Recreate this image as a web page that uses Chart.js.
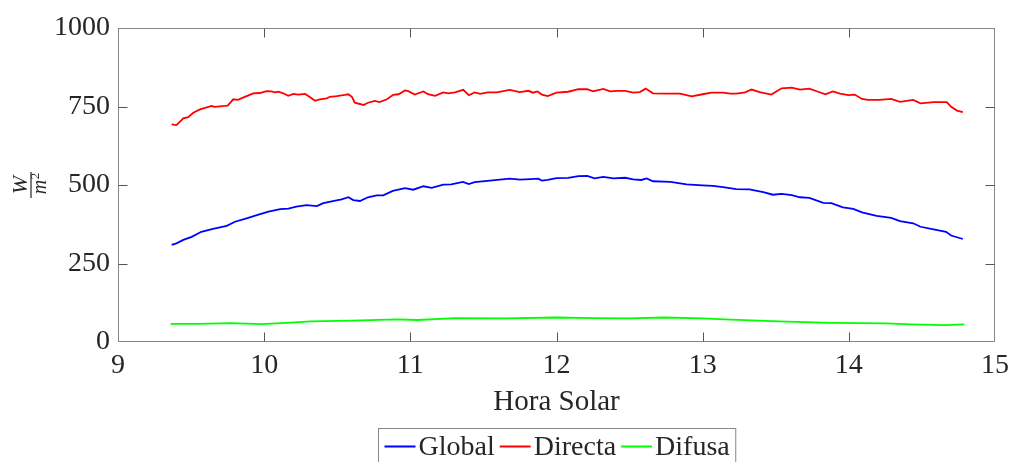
<!DOCTYPE html>
<html>
<head>
<meta charset="utf-8">
<script src="https://cdn.jsdelivr.net/npm/chart.js@4.4.1/dist/chart.umd.min.js"></script>
<style>
  html, body { margin: 0; padding: 0; background: #fff; }
  #wrap { width: 1010px; height: 462px; }
</style>
</head>
<body>
<div id="wrap"><canvas id="radiacion"></canvas></div>
<script>
// Irradiancia medida (W/m2) frente a la hora solar
const horaGlobal = [9.367, 9.40, 9.447, 9.504, 9.57, 9.65, 9.744, 9.80, 9.88, 9.95, 10.03, 10.11, 10.165, 10.22, 10.29, 10.36, 10.405, 10.47, 10.53, 10.576, 10.61, 10.655, 10.71, 10.77, 10.815, 10.88, 10.963, 11.02, 11.09, 11.146, 11.225, 11.28, 11.36, 11.40, 11.44, 11.545, 11.68, 11.75, 11.82, 11.875, 11.90, 11.94, 12.0, 12.08, 12.15, 12.21, 12.26, 12.32, 12.39, 12.47, 12.525, 12.58, 12.617, 12.66, 12.78, 12.89, 13.0, 13.07, 13.14, 13.23, 13.32, 13.415, 13.48, 13.54, 13.61, 13.665, 13.73, 13.825, 13.88, 13.96, 14.03, 14.09, 14.19, 14.29, 14.35, 14.44, 14.49, 14.58, 14.665, 14.70, 14.78];
const global = [309, 314, 325, 335, 351, 360, 370, 383, 394, 404, 415, 423, 425, 431, 436, 433, 442, 449, 454, 461, 452, 449, 461, 467, 467, 481, 490, 485, 496, 491, 501, 502, 510, 503, 509, 514, 520, 517, 519, 520, 514, 516, 522, 523, 528, 529, 521, 526, 521, 523, 518, 516, 521, 512, 510, 502, 499, 497, 493, 487, 486, 477, 469, 472, 468, 461, 459, 443, 442, 429, 424, 413, 402, 395, 385, 378, 367, 359, 351, 339, 328];

const horaDirecta = [9.367, 9.40, 9.447, 9.48, 9.515, 9.561, 9.641, 9.66, 9.732, 9.75, 9.789, 9.82, 9.88, 9.926, 9.97, 10.017, 10.05, 10.074, 10.097, 10.13, 10.165, 10.2, 10.233, 10.28, 10.31, 10.348, 10.38, 10.428, 10.45, 10.496, 10.553, 10.576, 10.6, 10.62, 10.68, 10.71, 10.758, 10.79, 10.84, 10.883, 10.92, 10.963, 10.986, 11.03, 11.09, 11.12, 11.17, 11.225, 11.26, 11.305, 11.362, 11.40, 11.44, 11.477, 11.53, 11.59, 11.68, 11.75, 11.807, 11.84, 11.87, 11.90, 11.94, 12.0, 12.08, 12.15, 12.21, 12.25, 12.32, 12.366, 12.41, 12.47, 12.525, 12.57, 12.61, 12.66, 12.75, 12.845, 12.925, 13.0, 13.06, 13.14, 13.19, 13.23, 13.29, 13.335, 13.39, 13.47, 13.54, 13.61, 13.665, 13.73, 13.79, 13.84, 13.89, 13.94, 13.996, 14.04, 14.09, 14.13, 14.21, 14.29, 14.35, 14.44, 14.49, 14.58, 14.67, 14.70, 14.74, 14.78];
const directa = [693, 691, 712, 716, 730, 741, 752, 749, 752, 753, 773, 771, 783, 792, 793, 799, 798, 795, 797, 792, 784, 790, 788, 790, 781, 768, 773, 776, 781, 783, 787, 789, 781, 762, 755, 762, 768, 764, 773, 787, 789, 801, 799, 788, 798, 789, 784, 795, 792, 795, 803, 786, 795, 790, 795, 795, 803, 796, 800, 794, 798, 788, 783, 794, 797, 805, 805, 798, 806, 798, 800, 800, 794, 796, 807, 792, 791, 791, 782, 789, 794, 794, 791, 791, 795, 804, 796, 788, 808, 810, 804, 807, 797, 789, 798, 791, 786, 788, 774, 771, 771, 774, 765, 771, 760, 764, 764, 749, 737, 732];

const horaDifusa = [9.36, 9.55, 9.77, 9.985, 10.15, 10.32, 10.6, 10.905, 11.05, 11.31, 11.65, 12.0, 12.25, 12.49, 12.74, 13.0, 13.15, 13.52, 13.88, 14.25, 14.43, 14.65, 14.79];
const difusa = [58, 58, 60, 57, 61, 66, 68, 72, 70, 76, 75, 78, 76, 75, 78, 75, 72, 66, 61, 59, 56, 54, 56];

const ticksX = [9, 10, 11, 12, 13, 14, 15];
const ticksY = [0, 250, 500, 750, 1000];

const fuente = "'Liberation Serif', 'Times New Roman', serif";
const colorEje = '#868686';

function puntos(xs, ys) {
  return xs.map((h, i) => ({ x: h, y: ys[i] }));
}

// marco tipo caja, marcas hacia dentro, etiqueta W/m^2 y leyenda con borde
const cajaEjes = {
  id: 'cajaEjes',
  afterDraw(chart) {
    const { ctx, chartArea: a, scales: { x, y } } = chart;
    ctx.save();
    ctx.strokeStyle = colorEje;
    ctx.lineWidth = 1;
    const L = Math.round(a.left) + 0.5, R = Math.round(a.right) - 0.5;
    const T = Math.round(a.top) + 0.5, B = Math.round(a.bottom) - 0.5;
    ctx.strokeRect(L, T, R - L, B - T);
    ctx.strokeStyle = '#555';
    ctx.beginPath();
    ticksX.forEach(v => {
      const px = Math.round(x.getPixelForValue(v)) + 0.5;
      if (px <= L + 1 || px >= R - 1) return;
      ctx.moveTo(px, B); ctx.lineTo(px, B - 9);
      ctx.moveTo(px, T); ctx.lineTo(px, T + 9);
    });
    ticksY.forEach(v => {
      const py = Math.round(y.getPixelForValue(v)) + 0.5;
      if (py <= T + 1 || py >= B - 1) return;
      ctx.moveTo(L, py); ctx.lineTo(L + 9, py);
      ctx.moveTo(R, py); ctx.lineTo(R - 9, py);
    });
    ctx.stroke();

    // unidades en forma de fraccion, girada
    ctx.translate(31, 185);
    ctx.rotate(-Math.PI / 2);
    ctx.fillStyle = '#262626';
    ctx.textAlign = 'center';
    ctx.textBaseline = 'alphabetic';
    ctx.font = 'italic 22px ' + fuente;
    ctx.fillText('W', 0, -4);
    ctx.fillRect(-13, -0.6, 26, 1.2);
    ctx.font = 'italic 20px ' + fuente;
    ctx.fillText('m', -2, 15);
    ctx.font = '13px ' + fuente;
    ctx.fillText('2', 9, 8);
    ctx.setTransform(1, 0, 0, 1, 0, 0);

    // leyenda
    const ds = chart.data.datasets;
    ctx.font = '28px ' + fuente;
    const largo = 31, hueco = 3, sep = 5, margen = 6;
    let total = margen * 2;
    ds.forEach((d, i) => {
      total += largo + hueco + ctx.measureText(d.label).width + (i < ds.length - 1 ? sep : 0);
    });
    const cx = (a.left + a.right) / 2;
    let xi = Math.round(cx - total / 2) + 0.5;
    const top = 428.5, ly = 446.5;
    ctx.strokeStyle = colorEje;
    ctx.lineWidth = 1;
    ctx.fillStyle = '#fff';
    ctx.fillRect(xi, top, total, 40);
    ctx.strokeRect(xi, top, total, 40);
    let xc = xi + margen;
    ctx.textAlign = 'left';
    ctx.textBaseline = 'alphabetic';
    ds.forEach(d => {
      ctx.strokeStyle = d.borderColor;
      ctx.lineWidth = 2;
      ctx.beginPath();
      ctx.moveTo(xc, ly); ctx.lineTo(xc + largo, ly);
      ctx.stroke();
      xc += largo + hueco;
      ctx.fillStyle = '#262626';
      ctx.fillText(d.label, xc, 455);
      xc += ctx.measureText(d.label).width + sep;
    });
    ctx.restore();
  }
};

new Chart(document.getElementById('radiacion'), {
  type: 'line',
  data: {
    datasets: [
      { label: 'Global', data: puntos(horaGlobal, global), borderColor: '#0000ff' },
      { label: 'Directa', data: puntos(horaDirecta, directa), borderColor: '#ff0000' },
      { label: 'Difusa', data: puntos(horaDifusa, difusa), borderColor: '#00ff00' }
    ]
  },
  options: {
    responsive: true,
    maintainAspectRatio: false,
    animation: false,
    layout: { padding: { top: 28, right: 15, left: 0, bottom: 30 } },
    elements: {
      line: { borderWidth: 1.8, tension: 0, fill: false },
      point: { radius: 0 }
    },
    plugins: {
      legend: { display: false },
      tooltip: { enabled: false }
    },
    scales: {
      x: {
        type: 'linear',
        min: 9, max: 15,
        afterBuildTicks: s => { s.ticks = ticksX.map(v => ({ value: v })); },
        afterFit: s => { s.height = 90; s.paddingLeft = 0; s.paddingRight = 0; },
        grid: { display: false, drawTicks: false },
        border: { display: false },
        ticks: { padding: 7, color: '#262626', font: { family: fuente, size: 28 }, callback: v => String(v) },
        title: {
          display: true, text: 'Hora Solar', color: '#262626',
          font: { family: fuente, size: 29 }, padding: { top: 0, bottom: 12 }
        }
      },
      y: {
        min: 0, max: 1000,
        afterBuildTicks: s => { s.ticks = ticksY.map(v => ({ value: v })); },
        afterFit: s => { s.width = 118; s.paddingTop = 0; s.paddingBottom = 0; },
        grid: { display: false, drawTicks: false },
        border: { display: false },
        ticks: { padding: 8, color: '#262626', font: { family: fuente, size: 28 }, callback: v => String(v) }
      }
    }
  },
  plugins: [cajaEjes]
});
</script>
</body>
</html>
